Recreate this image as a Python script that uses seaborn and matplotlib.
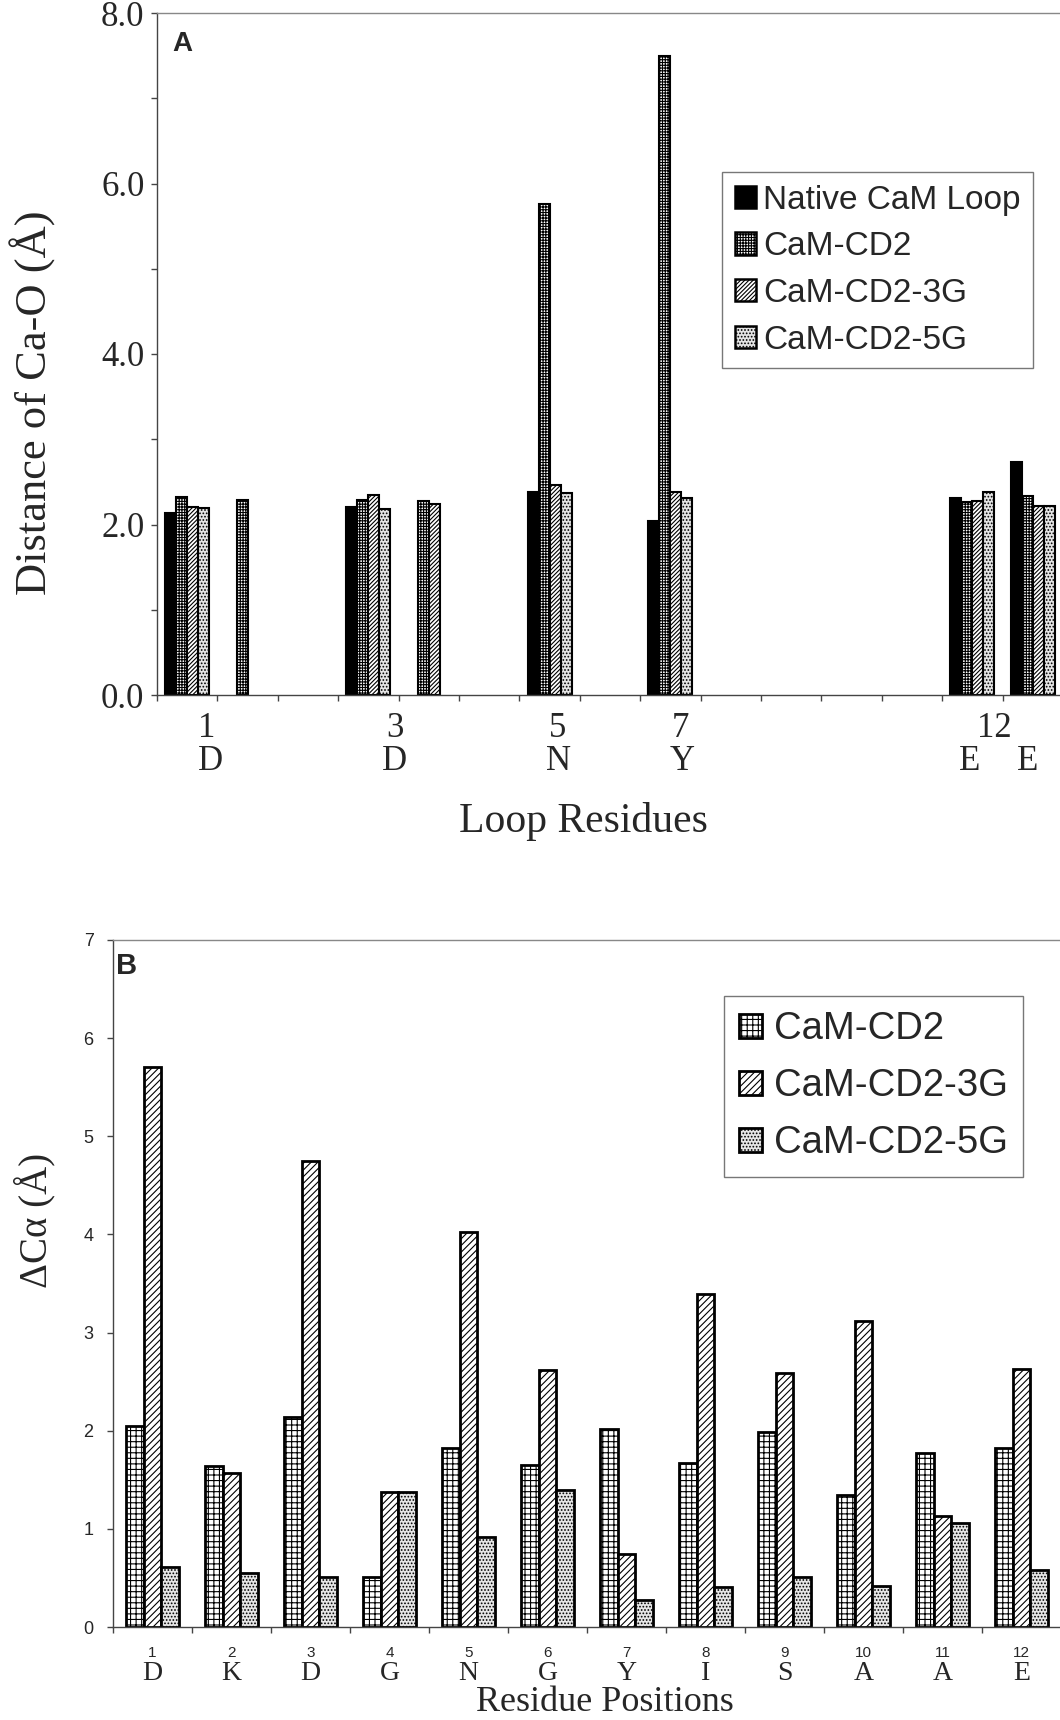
import numpy as np
import pandas as pd
import matplotlib
matplotlib.use('Agg')
import matplotlib.pyplot as plt
import matplotlib.transforms as mtransforms
from matplotlib.patches import Patch
import seaborn as sns

sns.set_style('ticks')
plt.rcParams['font.family'] = ['Liberation Sans', 'DejaVu Sans']
plt.rcParams['hatch.linewidth'] = 0.8

nan = np.nan

# ---- panel A: Ca-O distance per loop slot (15 slots on the category axis)
loop_slots = list(range(15))
series_a = ['Native CaM Loop', 'CaM-CD2', 'CaM-CD2-3G', 'CaM-CD2-5G']
native_a = [2.14, nan, nan, 2.21, nan, nan, 2.38, nan, 2.04, nan, nan, nan, nan, 2.31, 2.73]
cd2_a    = [2.32, 2.29, nan, 2.29, 2.28, nan, 5.76, nan, 7.49, nan, nan, nan, nan, 2.26, 2.33]
cd2_3g_a = [2.21, nan, nan, 2.35, 2.24, nan, 2.46, nan, 2.38, nan, nan, nan, nan, 2.28, 2.22]
cd2_5g_a = [2.19, nan, nan, 2.18, nan, nan, 2.37, nan, 2.31, nan, nan, nan, nan, 2.38, 2.22]
loop_numbers = ['1', '3', '5', '7', '12']
loop_letters = ['D', 'D', 'N', 'Y', 'E', 'E']

# ---- panel B: delta C-alpha per residue position
positions = ['1', '2', '3', '4', '5', '6', '7', '8', '9', '10', '11', '12']
residues = ['D', 'K', 'D', 'G', 'N', 'G', 'Y', 'I', 'S', 'A', 'A', 'E']
series_b = ['CaM-CD2', 'CaM-CD2-3G', 'CaM-CD2-5G']
cd2_b    = [2.05, 1.64, 2.14, 0.51, 1.82, 1.65, 2.02, 1.67, 1.99, 1.34, 1.77, 1.82]
cd2_3g_b = [5.71, 1.57, 4.75, 1.38, 4.02, 2.62, 0.74, 3.39, 2.59, 3.12, 1.13, 2.63]
cd2_5g_b = [0.61, 0.55, 0.51, 1.38, 0.92, 1.40, 0.28, 0.41, 0.51, 0.42, 1.06, 0.58]

# label placement (slot units) for panel A
num_x_a = [0.33, 3.44, 6.14, 8.16, 13.37]
let_x_a = [0.38, 3.44, 6.14, 8.19, 12.96, 13.92]

serif = ['Liberation Serif', 'DejaVu Serif']

styles_a = {
    'Native CaM Loop': dict(facecolor='black', hatch=None),
    'CaM-CD2': dict(facecolor='white', hatch='++++++'),
    'CaM-CD2-3G': dict(facecolor='white', hatch='////////'),
    'CaM-CD2-5G': dict(facecolor='#e4e4e4', hatch='.....'),
}
styles_b = {
    'CaM-CD2': dict(facecolor='white', hatch='+++'),
    'CaM-CD2-3G': dict(facecolor='white', hatch='/////'),
    'CaM-CD2-5G': dict(facecolor='#e6e6e6', hatch='.....'),
}


def long_table(xs, cols, names, xname, yname):
    rows = []
    for name, vals in zip(names, cols):
        for x, v in zip(xs, vals):
            if not np.isnan(v):
                rows.append({xname: x, 'series': name, yname: v})
    return pd.DataFrame(rows)


def style_bars(ax, names, styles, lw):
    for cont, name in zip(ax.containers, names):
        for p in cont.patches:
            p.set_facecolor(styles[name]['facecolor'])
            p.set_edgecolor('black')
            p.set_linewidth(lw)
            if styles[name]['hatch']:
                p.set_hatch(styles[name]['hatch'])


def style_spines(ax):
    ax.spines['right'].set_visible(False)
    for s in ['left', 'bottom', 'top']:
        ax.spines[s].set_color('#444444')
        ax.spines[s].set_linewidth(1.0)
    ax.spines['top'].set_color('#888888')


fig = plt.figure(figsize=(10.6, 17.2), dpi=100)

# ================= panel A =================
ax1 = fig.add_axes([157 / 1060, (1720 - 695) / 1720, 906 / 1060, 682 / 1720])
df_a = long_table(loop_slots, [native_a, cd2_a, cd2_3g_a, cd2_5g_a], series_a, 'slot', 'dist')
sns.barplot(data=df_a, x='slot', y='dist', hue='series', order=loop_slots,
            hue_order=series_a, width=0.73, dodge=True, errorbar=None,
            legend=False, ax=ax1)
style_bars(ax1, series_a, styles_a, 1.5)
ax1.set_xlim(-0.5, 14.5)
ax1.set_ylim(0, 8)
ax1.set_xticks(np.arange(-0.5, 15, 1.0))
ax1.set_xticklabels([])
ax1.set_yticks([0, 2, 4, 6, 8])
ax1.set_yticklabels(['0.0', '2.0', '4.0', '6.0', '8.0'], family=serif, fontsize=25)
ax1.set_yticks([1, 3, 5, 7], minor=True)
ax1.tick_params(axis='both', which='both', direction='out', length=4, width=1, color='#444444')
ax1.tick_params(axis='y', which='major', pad=5)
ax1.set_xlabel('')
ax1.set_ylabel('')
style_spines(ax1)

tr1 = mtransforms.blended_transform_factory(ax1.transData, ax1.transAxes)
for x, t in zip(num_x_a, loop_numbers):
    ax1.text(x, -0.0616, t, transform=tr1, ha='center', va='baseline',
             family=serif, fontsize=25)
for x, t in zip(let_x_a, loop_letters):
    ax1.text(x, -0.110, t, transform=tr1, ha='center', va='baseline',
             family=serif, fontsize=25)
ax1.text(0.0166, 0.974, 'A', transform=ax1.transAxes, ha='left', va='top',
         fontsize=20, fontweight='bold')

handles_a = [Patch(facecolor=styles_a[n]['facecolor'], edgecolor='black', linewidth=1.8,
                   hatch=styles_a[n]['hatch'], label=n) for n in series_a]
leg1 = ax1.legend(handles=handles_a, loc='upper left', bbox_to_anchor=(0.6236, 0.767),
                  borderaxespad=0, frameon=True, fancybox=False, framealpha=1,
                  edgecolor='#777777', prop={'family': ['Liberation Sans'], 'size': 24},
                  handlelength=0.65, handleheight=0.65, handletextpad=0.2,
                  labelspacing=0.47, borderpad=0.38)
leg1.get_frame().set_linewidth(1.0)

fig.text(33 / 1060, (1720 - 403) / 1720, 'Distance of Ca-O (Å)', rotation=90,
         ha='center', va='center', family=serif, fontsize=32)
fig.text(583 / 1060, (1720 - 832) / 1720, 'Loop Residues', ha='center', va='baseline',
         family=serif, fontsize=30)

# ================= panel B =================
ax2 = fig.add_axes([113 / 1060, (1720 - 1627) / 1720, 948 / 1060, 687 / 1720])
df_b = long_table(positions, [cd2_b, cd2_3g_b, cd2_5g_b], series_b, 'pos', 'dca')
sns.barplot(data=df_b, x='pos', y='dca', hue='series', order=positions,
            hue_order=series_b, width=0.67, dodge=True, errorbar=None,
            legend=False, ax=ax2)
style_bars(ax2, series_b, styles_b, 2.0)
ax2.set_xlim(-0.5, 11.5)
ax2.set_ylim(0, 7)
ax2.set_xticks(np.arange(-0.5, 12, 1.0))
ax2.set_xticklabels([])
ax2.set_yticks(range(8))
ax2.set_yticklabels([str(i) for i in range(8)], fontsize=13)
ax2.tick_params(axis='both', which='both', direction='out', length=4, width=1, color='#444444')
ax2.tick_params(axis='y', pad=10)
ax2.set_xlabel('')
ax2.set_ylabel('')
style_spines(ax2)

tr2 = mtransforms.blended_transform_factory(ax2.transData, ax2.transAxes)
for i, (n, r) in enumerate(zip(positions, residues)):
    ax2.text(i, -0.0437, n, transform=tr2, ha='center', va='baseline', fontsize=11)
    ax2.text(i, (1627 - 1680) / 687, r, transform=tr2, ha='center', va='baseline',
             family=serif, fontsize=20)
ax2.text(0.003, 0.9825, 'B', transform=ax2.transAxes, ha='left', va='top',
         fontsize=21, fontweight='bold')

handles_b = [Patch(facecolor=styles_b[n]['facecolor'], edgecolor='black', linewidth=2.0,
                   hatch=styles_b[n]['hatch'], label=n) for n in series_b]
leg2 = ax2.legend(handles=handles_b, loc='upper left', bbox_to_anchor=(0.6445, 0.9185),
                  borderaxespad=0, frameon=True, fancybox=False, framealpha=1,
                  edgecolor='#777777', prop={'family': ['Liberation Sans'], 'size': 27.5},
                  handlelength=0.6, handleheight=0.6, handletextpad=0.3,
                  labelspacing=0.55, borderpad=0.4)
leg2.get_frame().set_linewidth(1.0)

fig.text(35 / 1060, (1720 - 1220) / 1720, 'ΔCα (Å)', rotation=90,
         ha='center', va='center', family=serif, fontsize=28)
fig.text(605 / 1060, (1720 - 1711) / 1720, 'Residue Positions', ha='center', va='baseline',
         family=serif, fontsize=26)

fig.savefig('out.png', dpi=100)
